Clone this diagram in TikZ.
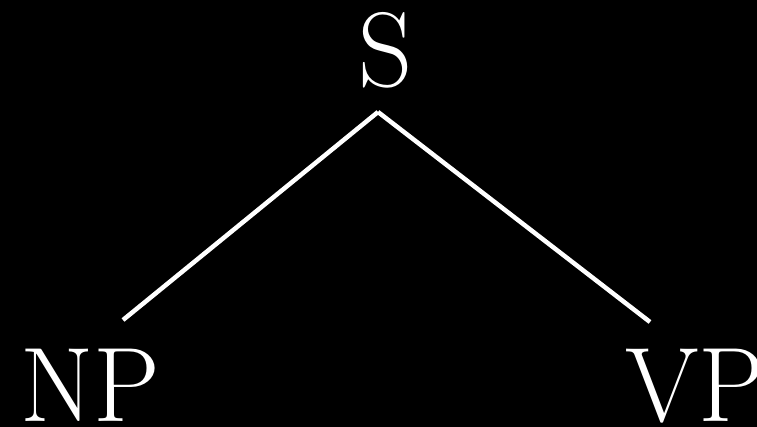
\documentclass[tikz,border=0pt]{standalone}
\usepackage{fontspec}
\usepackage{tikz}
\usetikzlibrary{positioning,calc}

\begin{document}
\begin{tikzpicture}[
    x=1pt, y=1pt,
    cat/.style={
        text=white,
        inner sep=0pt,
        font=\fontsize{106}{106}\selectfont
    },
    branch/.style={white, line width=4.5pt}
]

% Background
\fill[black] (0,0) rectangle (757,427);
\useasboundingbox (0,0) rectangle (757,427);

% Categories
\node[cat, anchor=base] (s) at (386, 340) {S};
\node[cat, anchor=base west] (np) at (20, 5) {NP};
\node[cat, anchor=base west] (vp) at (625, 5) {VP};

% Branch ends
\coordinate (s-foot) at ([xshift=-8pt, yshift=-25pt]s.base);
\coordinate (np-top) at ([xshift=103pt, yshift=102pt]np.base west);
\coordinate (vp-top) at ([xshift=25pt, yshift=100pt]vp.base west);

% Branches
\draw[branch] (s-foot) -- (np-top);
\draw[branch] (s-foot) -- (vp-top);

\end{tikzpicture}
\end{document}
